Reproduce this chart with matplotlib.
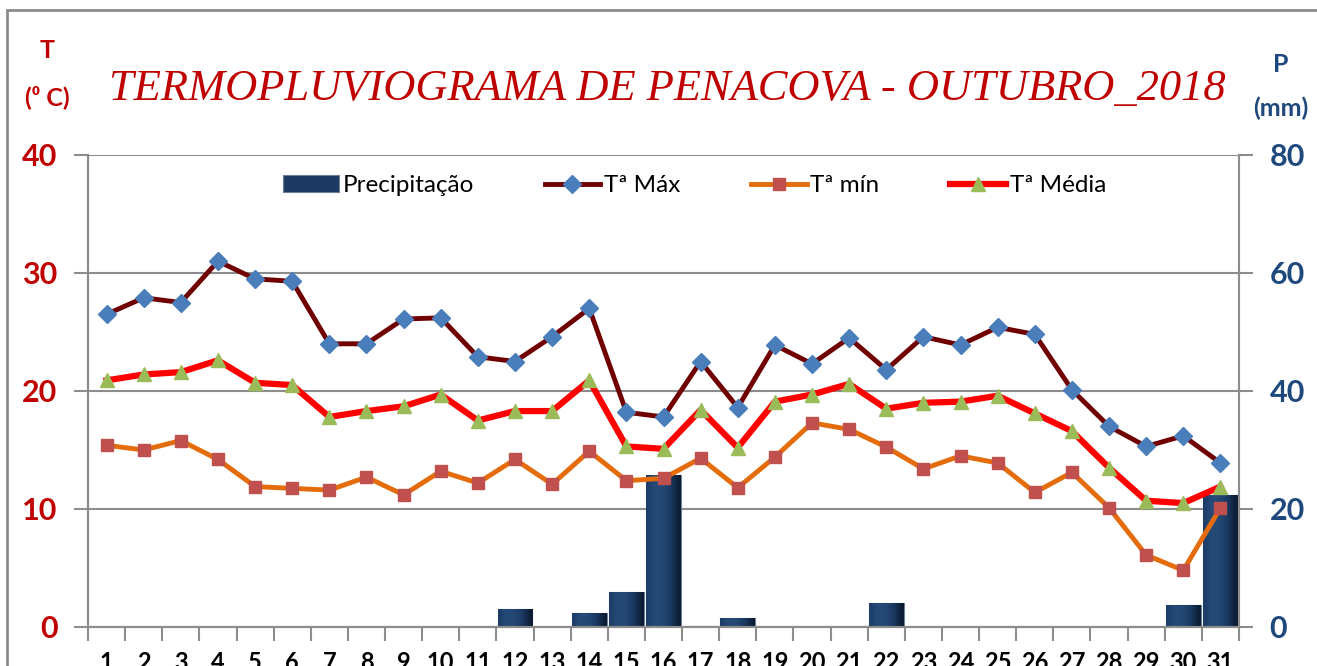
import numpy as np
import matplotlib
matplotlib.use('Agg')
import matplotlib.pyplot as plt
from matplotlib.patches import Rectangle
from matplotlib.colors import LinearSegmentedColormap

# dados - Penacova, Outubro 2018
dias = list(range(1, 32))
t_max = [26.5, 27.9, 27.5, 31.0, 29.5, 29.3, 24.0, 24.0, 26.1, 26.2, 22.9, 22.5,
         24.6, 27.0, 18.2, 17.8, 22.5, 18.6, 23.9, 22.3, 24.5, 21.8, 24.6, 23.9,
         25.4, 24.8, 20.1, 17.0, 15.3, 16.2, 13.9]
t_min = [15.4, 15.0, 15.8, 14.2, 11.9, 11.75, 11.6, 12.7, 11.2, 13.2, 12.2, 14.2,
         12.1, 14.9, 12.4, 12.6, 14.3, 11.8, 14.4, 17.3, 16.75, 15.25, 13.4, 14.5,
         13.9, 11.4, 13.1, 10.1, 6.1, 4.8, 10.1]
t_med = [20.9, 21.4, 21.6, 22.6, 20.7, 20.5, 17.8, 18.3, 18.7, 19.7, 17.5, 18.3,
         18.3, 20.9, 15.3, 15.1, 18.4, 15.2, 19.1, 19.7, 20.6, 18.5, 19.0, 19.1,
         19.6, 18.1, 16.6, 13.5, 10.7, 10.5, 11.9]
precip = [0, 0, 0, 0, 0, 0, 0, 0, 0, 0, 0, 3.1,
          0, 2.3, 5.9, 25.8, 0.1, 1.5, 0, 0, 0, 4.1, 0, 0,
          0, 0, 0, 0, 0, 3.8, 22.3]

red_lbl = '#C00000'
blue_lbl = '#1F497D'
grid_c = '#8C8C8C'
fam = ['Lato', 'DejaVu Sans']

fig = plt.figure(figsize=(13.17, 6.66), dpi=100)

# moldura do grafico (cortada na imagem original)
fig.patches.append(Rectangle((7 / 1317, -0.1), 1.2, (666 - 10) / 666 + 0.1,
                             transform=fig.transFigure, fill=False,
                             edgecolor='#8C8C8C', lw=2))

ax_p = fig.add_axes([88 / 1317, 39 / 666, 1151 / 1317, 472 / 666])
ax_t = ax_p.twinx()

# precipitacao (eixo direito)
bars = ax_p.bar(dias, precip, width=0.94, color='#1B3A63',
                edgecolor='#6F8096', lw=0.8, zorder=2, label='Precipitação')
bar_cmap = LinearSegmentedColormap.from_list('bar', ['#050E1C', '#1B3A63', '#2E5687'])
grad = np.array([[0.55, 0.75, 0.8, 0.75, 0.65, 0.5, 0.35, 0.15]])
for b in bars:
    if b.get_height() <= 0.3:
        continue
    x0, w, hh = b.get_x(), b.get_width(), b.get_height()
    im = ax_p.imshow(grad, cmap=bar_cmap, vmin=0, vmax=1, aspect='auto',
                     extent=(x0, x0 + w, 0, hh), zorder=2.5, interpolation='bicubic')
    im.set_clip_path(b)

ax_p.set_xlim(0.5, 31.5)
ax_p.set_ylim(0, 80)
ax_p.set_yticks([0, 20, 40, 60, 80])
ax_p.yaxis.tick_right()
ax_p.grid(axis='y', color=grid_c, lw=1.5, zorder=0)
ax_p.set_axisbelow(True)

# temperaturas (eixo esquerdo)
ax_t.plot(dias, t_max, color='#700000', lw=3.5, marker='D', ms=9,
          mfc='#4A7EBB', mec='#4A7EBB', label='Tª Máx', zorder=3)
ax_t.plot(dias, t_min, color='#E46C0A', lw=3.5, marker='s', ms=9,
          mfc='#C0504D', mec='#C0504D', label='Tª mín', zorder=3)
ax_t.plot(dias, t_med, color='#FF0000', lw=4.5, marker='^', ms=10,
          mfc='#9BBB59', mec='#9BBB59', label='Tª Média', zorder=4)
ax_t.set_ylim(0, 40)
ax_t.set_yticks([0, 10, 20, 30, 40])
ax_t.yaxis.tick_left()

for a in (ax_p, ax_t):
    a.spines['top'].set_visible(False)
    for s in ('left', 'right', 'bottom'):
        a.spines[s].set_color(grid_c)
        a.spines[s].set_linewidth(1.5)

ax_t.tick_params(axis='y', length=10, width=1.5, color=grid_c, pad=12,
                 labelcolor=red_lbl, labelsize=22)
ax_p.tick_params(axis='y', length=10, width=1.5, color=grid_c, pad=12,
                 labelcolor=blue_lbl, labelsize=22)
for lbl in ax_t.get_yticklabels() + ax_p.get_yticklabels():
    lbl.set_fontweight('bold')
    lbl.set_family(fam)

ax_p.set_xticks(dias)
ax_p.set_xticklabels([str(d) for d in dias], fontweight='bold', family=fam)
ax_p.set_xticks(np.arange(0.5, 32, 1), minor=True)
ax_p.tick_params(axis='x', which='major', length=0, pad=17, labelsize=17)
ax_p.tick_params(axis='x', which='minor', length=10, width=1.5, color=grid_c)

# legenda
h = [bars] + ax_t.get_lines()
ax_t.legend(h, [x.get_label() for x in h], loc='center', bbox_to_anchor=(0.527, 0.935),
            ncol=4, frameon=False, prop={'family': fam, 'size': 17.5},
            handlelength=2.3, columnspacing=2.9, handletextpad=0.15)

# titulo e rotulos dos eixos
fig.text(0.507, 0.866, 'TERMOPLUVIOGRAMA DE PENACOVA - OUTUBRO_2018', ha='center', va='center',
         color=red_lbl, fontsize=32, style='italic', family='Liberation Serif')
fig.text(47 / 1317, 1 - 50 / 666, 'T', ha='center', va='center', color=red_lbl,
         fontsize=18, fontweight='bold', family=fam)
fig.text(47 / 1317, 1 - 97 / 666, '(⁰ C)', ha='center', va='center', color=red_lbl,
         fontsize=18, fontweight='bold', family=fam)
fig.text(1281 / 1317, 1 - 65 / 666, 'P', ha='center', va='center', color=blue_lbl,
         fontsize=18, fontweight='bold', family=fam)
fig.text(1281 / 1317, 1 - 108 / 666, '(mm)', ha='center', va='center', color=blue_lbl,
         fontsize=18, fontweight='bold', family=fam)

fig.savefig('out.png', dpi=100)
